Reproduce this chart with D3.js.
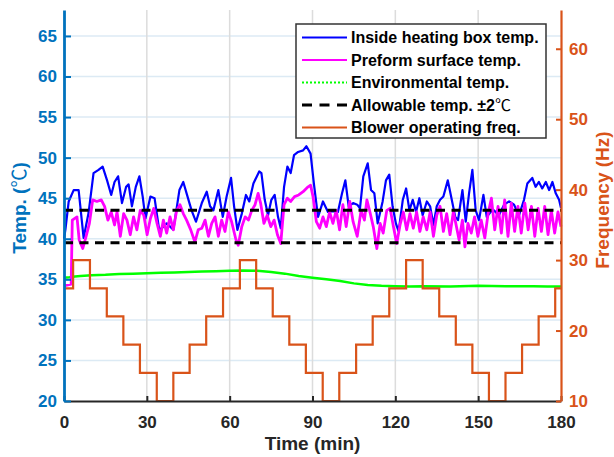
<!DOCTYPE html>
<html>
<head>
<meta charset="utf-8">
<script src="https://cdn.jsdelivr.net/npm/d3@7"></script>
<style>
	body { margin: 0; background: #fff; }
	svg { display: block; font-family: "Liberation Sans", Arial, "Noto Sans CJK SC", sans-serif; font-weight: bold; }
</style>
</head>
<body>
<div id="vis"></div>
<script>
// declare constants
const FRAME_WIDTH = 614;
const FRAME_HEIGHT = 457;
const MARGINS = {left: 64, right: 53, top: 10, bottom: 56};

const BLUE_AXIS = "#0072BD";
const ORANGE_AXIS = "#D95319";
const DARK = "#262626";

// ticks
const X_TICKS = [0, 30, 60, 90, 120, 150, 180];
const LEFT_TICKS = [20, 25, 30, 35, 40, 45, 50, 55, 60, 65];
const RIGHT_TICKS = [10, 20, 30, 40, 50, 60];

// inside heating box temp. (time min, temp C)
const INSIDE_T = [0, 0.5, 1.7, 3.5, 5.3, 7.1, 8.9, 10.7, 12.5, 14.0, 15.6, 17.1, 18.3, 19.6, 21.0, 22.5, 23.4, 24.6, 26.0, 27.3,
	28.5, 29.5, 31.3, 32.8, 34.3, 34.8, 37.2, 39.6, 41.8, 43.2, 44.4, 46.2, 47.8, 49.9, 51.7, 52.9, 54.1, 55.9, 57.5, 58.9,
	60.5, 61.6, 62.8, 64.4, 65.9, 67.1, 68.6, 70.7, 71.5, 72.7, 73.9, 75.1, 76.3, 77.5, 78.5, 79.7, 80.9, 82.1, 83.3, 84.8,
	86.6, 87.8, 89.3, 90.5, 92.0, 93.8, 95.6, 97.4, 99.2, 100.7, 101.9, 103.1, 104.7, 106.2, 107.2, 108.4, 110.0, 111.2, 112.4, 113.6,
	115.4, 116.6, 117.8, 119.0, 120.2, 121.2, 122.7, 123.9, 125.1, 126.3, 127.5, 128.7, 129.9, 131.4, 132.6, 133.8, 135.0, 136.2, 137.4, 139.0,
	140.2, 141.7, 142.7, 144.3, 145.5, 146.7, 147.9, 149.1, 150.3, 151.9, 153.1, 154.5, 155.7, 157.5, 159.4, 161.2, 163.0, 164.8, 166.6, 167.8,
	169.6, 170.8, 172.0, 173.2, 174.5, 175.7, 176.9, 178.1, 179.3, 180];
const INSIDE_V = [40.0, 41.1, 44.6, 46.0, 46.0, 40.1, 43.2, 48.1, 48.5, 48.9, 47.2, 45.4, 47.0, 47.7, 44.4, 46.4, 46.7, 44.0, 46.4, 47.7,
	45.2, 42.5, 45.2, 45.0, 41.5, 41.1, 41.9, 41.1, 46.0, 47.0, 45.6, 43.5, 42.1, 44.4, 45.8, 44.0, 43.5, 46.0, 42.7, 45.2,
	47.5, 44.0, 41.1, 43.1, 45.4, 44.6, 46.8, 48.3, 48.1, 44.8, 42.9, 44.8, 45.4, 42.7, 41.3, 46.4, 48.9, 48.1, 50.3, 50.7,
	50.9, 51.4, 50.5, 46.8, 42.7, 44.6, 43.3, 43.4, 43.3, 45.6, 47.2, 44.0, 44.4, 44.2, 43.75, 47.7, 49.3, 46.0, 45.6, 41.9,
	44.6, 47.2, 47.9, 44.0, 41.9, 40.9, 44.8, 46.2, 43.5, 44.8, 43.3, 45.0, 42.9, 44.6, 44.0, 41.7, 44.0, 44.8, 45.2, 47.2,
	45.2, 42.7, 42.3, 46.0, 42.1, 45.6, 48.5, 43.5, 42.3, 45.4, 42.7, 43.3, 43.5, 42.9, 44.2, 44.6, 44.2, 42.9, 44.8, 46.8,
	47.5, 46.4, 47.0, 46.2, 47.0, 46.0, 47.0, 45.6, 44.8, 43.8];

// preform surface temp.
const PREFORM_T = [0, 2.6, 3.0, 4.7, 5.5, 6.8, 8.0, 9.2, 10.4, 11.9, 13.5, 14.7, 15.9, 17.1, 18.3, 19.2, 20.4, 21.6, 22.8, 24.0,
	25.2, 26.4, 27.6, 28.9, 30.1, 31.3, 32.5, 33.7, 34.9, 36.0, 37.2, 38.4, 39.6, 40.8, 42.0, 43.2, 44.4, 45.9, 47.4, 48.6,
	49.9, 51.1, 52.3, 53.5, 54.7, 55.9, 57.1, 58.3, 59.5, 60.7, 62.3, 63.1, 64.4, 65.6, 66.8, 68.0, 69.2, 70.3, 71.2, 72.4,
	73.6, 74.9, 76.1, 77.3, 78.5, 79.7, 80.9, 82.1, 83.5, 85.0, 86.6, 88.4, 89.3, 90.2, 91.4, 92.6, 93.8, 95.0, 96.2, 97.4,
	98.6, 99.8, 101.0, 102.2, 103.5, 104.7, 106.2, 107.6, 108.8, 109.7, 110.8, 112.0, 113.3, 114.5, 115.6, 116.9, 118.1, 119.3, 120.5, 121.7,
	122.9, 124.1, 125.3, 126.5, 127.7, 128.9, 130.1, 131.4, 132.6, 133.8, 135.0, 136.2, 137.4, 138.6, 139.8, 141.0, 141.9, 143.1, 144.3, 145.2,
	146.3, 147.5, 148.7, 149.9, 151.1, 152.4, 153.6, 154.8, 156.0, 157.2, 158.4, 159.6, 160.8, 162.0, 163.2, 164.4, 165.6, 166.9, 168.1, 169.3,
	170.5, 171.7, 172.9, 174.1, 175.3, 176.5, 177.7, 178.9, 180];
const PREFORM_V = [34.2, 34.4, 42.3, 42.7, 39.85, 38.8, 40.3, 41.9, 44.8, 44.6, 44.8, 44.0, 42.3, 43.3, 41.7, 43.3, 40.3, 43.1, 42.3, 40.5,
	42.7, 41.1, 43.5, 42.9, 40.5, 42.5, 43.75, 41.9, 40.3, 42.3, 40.7, 42.7, 41.1, 43.5, 44.2, 43.1, 42.3, 41.1, 39.6, 41.1,
	41.3, 42.3, 40.3, 41.9, 42.7, 40.3, 42.3, 40.9, 43.3, 42.1, 39.85, 39.2, 41.5, 42.7, 42.3, 43.5, 44.2, 45.6, 44.4, 41.9,
	42.9, 41.5, 42.3, 40.5, 39.4, 44.2, 45.0, 44.6, 45.2, 45.4, 45.8, 46.4, 46.6, 45.2, 42.1, 41.3, 42.7, 41.5, 43.3, 41.9,
	43.5, 41.1, 44.2, 41.5, 44.6, 42.1, 40.3, 43.5, 42.3, 44.8, 43.3, 41.5, 38.8, 41.9, 40.7, 43.5, 43.75, 41.5, 39.4, 41.7,
	43.3, 41.1, 43.1, 41.3, 43.3, 40.9, 42.7, 41.1, 43.3, 40.3, 42.9, 44.0, 40.9, 43.1, 40.5, 43.3, 41.9, 39.85, 42.3, 39.0,
	41.9, 40.7, 42.7, 40.3, 42.3, 40.1, 43.1, 45.0, 41.1, 44.0, 40.7, 44.8, 40.3, 44.4, 40.9, 44.0, 40.7, 44.4, 41.1, 44.0,
	40.3, 43.75, 40.9, 44.0, 40.5, 43.5, 40.7, 43.3, 41.5];

// environmental temp.
const ENV_T = [0, 2, 4, 6, 10, 15, 20, 25, 30, 35, 40, 45, 50, 55, 60, 65, 70, 75, 80, 85,
	90, 95, 100, 105, 110, 115, 120, 125, 130, 140, 150, 160, 170, 175, 180];
const ENV_V = [35.2, 35.25, 35.35, 35.4, 35.5, 35.55, 35.65, 35.7, 35.75, 35.8, 35.85, 35.9, 35.95, 36.0, 36.05, 36.1, 36.05, 35.9, 35.7, 35.4,
	35.2, 35.0, 34.8, 34.5, 34.3, 34.2, 34.15, 34.1, 34.15, 34.1, 34.2, 34.15, 34.15, 34.1, 34.1];

// allowable band (41.5 +/- 2)
const ALLOWABLE = [39.5, 43.5];

// blower operating frequency steps (start time min, Hz)
const BLOWER_T = [0, 3.3, 9.4, 15.5, 21.5, 27.5, 33.6, 39.6, 45.5, 51.5, 57.6, 63.7, 69.6, 75.6, 81.6, 87.6,
	93.7, 99.7, 105.8, 111.8, 117.8, 123.9, 129.9, 135.9, 141.9, 147.9, 153.9, 159.9, 165.9, 171.9, 177.9, 180];
const BLOWER_HZ = [26, 30, 26, 22, 18, 14, 10, 14, 18, 22, 26, 30, 26, 22, 18, 14,
	10, 14, 18, 22, 26, 30, 26, 22, 18, 14, 10, 14, 18, 22, 26, 26];

const LEGEND_LABELS = ["Inside heating box temp.", "Preform surface temp.", "Environmental temp.",
	"Allowable temp. ±2℃", "Blower operating freq."];
const LEGEND_COLORS = ["#0000FF", "#FF00FF", "#00FF00", "#000000", ORANGE_AXIS];
const LEGEND_DASH = [null, null, "2,2", "10,7.5", null];

// frame
const FRAME = d3.select("#vis")
	.append("svg")
		.attr("width", FRAME_WIDTH)
		.attr("height", FRAME_HEIGHT);

const BOTTOM = FRAME_HEIGHT - MARGINS.bottom;
const RIGHT = FRAME_WIDTH - MARGINS.right;

// scales
const X_SCALE = d3.scaleLinear()
					.domain([0, 180])
					.range([MARGINS.left, RIGHT]);
const Y_LEFT = d3.scaleLinear()
					.domain([20, 68.2])
					.range([BOTTOM, MARGINS.top]);
const Y_RIGHT = d3.scaleLinear()
					.domain([10, 65.5])
					.range([BOTTOM, MARGINS.top]);

// grid
FRAME.selectAll(".hgrid")
	.data(LEFT_TICKS.slice(1))
	.enter()
	.append("line")
		.attr("x1", MARGINS.left)
		.attr("x2", RIGHT)
		.attr("y1", (d) => Y_LEFT(d))
		.attr("y2", (d) => Y_LEFT(d))
		.style("stroke", "#DCEAF4")
		.style("stroke-width", 1.5);

FRAME.selectAll(".vgrid")
	.data(X_TICKS.slice(1, -1))
	.enter()
	.append("line")
		.attr("x1", (d) => X_SCALE(d))
		.attr("x2", (d) => X_SCALE(d))
		.attr("y1", MARGINS.top)
		.attr("y2", BOTTOM)
		.style("stroke", "#DCDCDC")
		.style("stroke-width", 1.5);

// series
function zip(ts, vs) {
	return ts.map((t, i) => [t, vs[i]]);
}

const LEFT_LINE = d3.line()
	.x((d) => X_SCALE(d[0]))
	.y((d) => Y_LEFT(d[1]));

FRAME.append("path")
	.datum(zip(ENV_T, ENV_V))
	.attr("d", LEFT_LINE)
	.style("fill", "none")
	.style("stroke", "#00FF00")
	.style("stroke-width", 2.5);

FRAME.append("path")
	.datum(zip(INSIDE_T, INSIDE_V))
	.attr("d", LEFT_LINE)
	.style("fill", "none")
	.style("stroke", "#0000FF")
	.style("stroke-width", 2.2)
	.style("stroke-linejoin", "round");

FRAME.append("path")
	.datum(zip(PREFORM_T, PREFORM_V))
	.attr("d", LEFT_LINE)
	.style("fill", "none")
	.style("stroke", "#FF00FF")
	.style("stroke-width", 2.8)
	.style("stroke-linejoin", "round");

FRAME.selectAll(".allow")
	.data(ALLOWABLE)
	.enter()
	.append("line")
		.attr("x1", X_SCALE(0))
		.attr("x2", X_SCALE(180))
		.attr("y1", (d) => Y_LEFT(d))
		.attr("y2", (d) => Y_LEFT(d))
		.style("stroke", "#000")
		.style("stroke-width", 3)
		.style("stroke-dasharray", "9,6.5");

FRAME.append("path")
	.datum(zip(BLOWER_T, BLOWER_HZ))
	.attr("d", d3.line()
		.curve(d3.curveStepAfter)
		.x((d) => X_SCALE(d[0]))
		.y((d) => Y_RIGHT(d[1])))
	.style("fill", "none")
	.style("stroke", ORANGE_AXIS)
	.style("stroke-width", 2.2);

// x axis
const X_AXIS = FRAME.append("g")
	.attr("transform", "translate(0," + BOTTOM + ")")
	.call(d3.axisBottom(X_SCALE).tickValues(X_TICKS).tickSizeInner(-5).tickSizeOuter(0).tickPadding(15))
		.attr("font-size", "17px")
		.attr("font-family", null);
X_AXIS.select(".domain").style("stroke", DARK).style("stroke-width", 2.2);
X_AXIS.selectAll(".tick line").style("stroke", DARK).style("stroke-width", 2);
X_AXIS.selectAll(".tick text").style("fill", DARK);

// left axis
const L_AXIS = FRAME.append("g")
	.attr("transform", "translate(" + MARGINS.left + ",0)")
	.call(d3.axisLeft(Y_LEFT).tickValues(LEFT_TICKS).tickSizeInner(-7).tickSizeOuter(0).tickPadding(7))
		.attr("font-size", "17px")
		.attr("font-family", null);
L_AXIS.select(".domain").style("stroke", BLUE_AXIS).style("stroke-width", 2.8);
L_AXIS.selectAll(".tick line").style("stroke", BLUE_AXIS).style("stroke-width", 2);
L_AXIS.selectAll(".tick text").style("fill", BLUE_AXIS);

// right axis
const R_AXIS = FRAME.append("g")
	.attr("transform", "translate(" + RIGHT + ",0)")
	.call(d3.axisRight(Y_RIGHT).tickValues(RIGHT_TICKS).tickSizeInner(-5).tickSizeOuter(0).tickPadding(8))
		.attr("font-size", "17px")
		.attr("font-family", null);
R_AXIS.select(".domain").style("stroke", ORANGE_AXIS).style("stroke-width", 2.2);
R_AXIS.selectAll(".tick line").style("stroke", ORANGE_AXIS).style("stroke-width", 2);
R_AXIS.selectAll(".tick text").style("fill", ORANGE_AXIS);

// axis labels
FRAME.append("text")
	.attr("transform", "translate(" + (X_SCALE(90)) + ",450)")
	.attr("text-anchor", "middle")
	.attr("font-size", "19px")
	.style("fill", DARK)
	.text("Time (min)");

const TEMP_LABEL = FRAME.append("text")
	.attr("transform", "translate(26,208) rotate(-90)")
	.attr("text-anchor", "middle")
	.attr("font-size", "19px")
	.style("fill", BLUE_AXIS);
TEMP_LABEL.append("tspan").text("Temp. (");
TEMP_LABEL.append("tspan").attr("font-weight", "normal").text("℃");
TEMP_LABEL.append("tspan").text(")");

FRAME.append("text")
	.attr("transform", "translate(609,200) rotate(-90)")
	.attr("text-anchor", "middle")
	.attr("font-size", "19px")
	.style("fill", ORANGE_AXIS)
	.text("Frequency (Hz)");

// legend
const LEGEND = FRAME.append("g");
LEGEND.append("rect")
	.attr("x", 296)
	.attr("y", 24)
	.attr("width", 250)
	.attr("height", 114)
	.style("fill", "#fff")
	.style("stroke", "#333")
	.style("stroke-width", 1.5);

LEGEND_LABELS.forEach((label, i) => {
	const y = 37.5 + i * 22.5;
	LEGEND.append("line")
		.attr("x1", 302)
		.attr("x2", 347)
		.attr("y1", y)
		.attr("y2", y)
		.style("stroke", LEGEND_COLORS[i])
		.style("stroke-width", i == 3 ? 3 : 2)
		.style("stroke-dasharray", LEGEND_DASH[i]);
	const txt = LEGEND.append("text")
		.attr("x", 351)
		.attr("y", y + 5.8)
		.attr("font-size", "16px")
		.style("fill", "#000");
	const parts = label.split("℃");
	txt.append("tspan").text(parts[0]);
	if (parts.length > 1) {
		txt.append("tspan").attr("font-weight", "normal").text("℃");
	}
});
</script>
</body>
</html>
